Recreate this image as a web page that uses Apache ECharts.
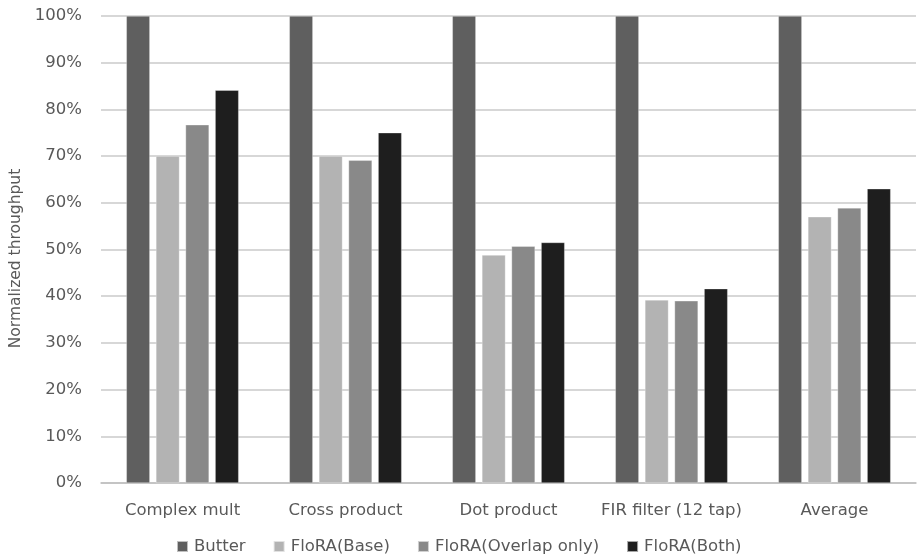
<!DOCTYPE html>
<html>
<head>
<meta charset="utf-8">
<script src="https://cdn.jsdelivr.net/npm/echarts@6/dist/echarts.min.js"></script>
<style>
  html, body { margin: 0; padding: 0; background: #fff; }
  #chart { width: 917px; height: 557px; }
</style>
</head>
<body>
<div id="chart"></div>
<script>
// Benchmarks on the x axis
const categories = ['Complex mult', 'Cross product', 'Dot product', 'FIR filter (12 tap)', 'Average'];

// Normalized throughput (%) per configuration
const butter = [100, 100, 100, 100, 100];
const floraBase = [70.0, 70.0, 48.8, 39.2, 57.0];
const floraOverlap = [76.7, 69.1, 50.7, 39.0, 58.9];
const floraBoth = [84.1, 75.0, 51.5, 41.6, 63.0];

const seriesNames = ['Butter', 'FloRA(Base)', 'FloRA(Overlap only)', 'FloRA(Both)'];
const seriesColors = ['#5f5f5f', '#b3b3b3', '#898989', '#1e1e1e'];

const fontFamily = '"DejaVu Sans", "Noto Sans", sans-serif';
const textColor = '#595959';

const chart = echarts.init(document.getElementById('chart'), null, { renderer: 'canvas' });

const seriesData = [butter, floraBase, floraOverlap, floraBoth];

chart.setOption({
  animation: false,
  backgroundColor: '#ffffff',
  textStyle: { fontFamily: fontFamily },
  grid: { left: 101, right: 1, top: 16, bottom: 74, containLabel: false, outerBoundsMode: 'none' },
  legend: {
    bottom: 2,
    left: 176,
    padding: 0,
    itemWidth: 11,
    itemHeight: 11,
    itemGap: 27,
    icon: 'rect',
    textStyle: { fontFamily: fontFamily, fontSize: 16.5, color: textColor, padding: [0, 0, 0, 1] },
    data: seriesNames
  },
  xAxis: {
    type: 'category',
    data: categories,
    axisTick: { show: false },
    axisLine: { lineStyle: { color: '#bfbfbf', width: 1.5 } },
    axisLabel: { interval: 0, fontFamily: fontFamily, fontSize: 16.5, color: textColor, margin: 19 }
  },
  yAxis: {
    type: 'value',
    min: 0,
    max: 100,
    interval: 10,
    name: 'Normalized throughput',
    nameLocation: 'middle',
    nameGap: 74,
    nameRotate: 90,
    nameTextStyle: { fontFamily: fontFamily, fontSize: 15.5, color: textColor, padding: [0, 18, 0, 0] },
    axisLine: { show: false },
    axisTick: { show: false },
    splitLine: { lineStyle: { color: '#cacaca', width: 1.5 } },
    axisLabel: {
      fontFamily: fontFamily,
      fontSize: 16.5,
      color: textColor,
      margin: 19,
      formatter: v => v + '%'
    }
  },
  series: seriesNames.map((name, i) => ({
    name: name,
    type: 'bar',
    data: seriesData[i],
    barWidth: 23.5,
    barGap: '26%',
    itemStyle: { color: seriesColors[i], borderColor: 'rgba(255,255,255,0.6)', borderWidth: 0.5 }
  }))
});
</script>
</body>
</html>
